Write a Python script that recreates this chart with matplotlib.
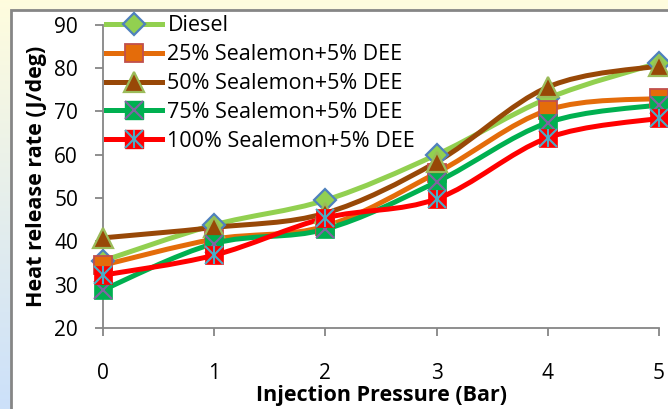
import matplotlib
matplotlib.use("Agg")
import matplotlib.pyplot as plt
import numpy as np
from matplotlib.path import Path
from matplotlib.patches import PathPatch, Rectangle
from matplotlib.lines import Line2D

plt.rcParams['font.family'] = ['Open Sans', 'DejaVu Sans']

# Data
pressure = [0, 1, 2, 3, 4, 5]
diesel = [35.5, 43.8, 49.5, 60.0, 73.0, 81.2]
sl25 = [34.5, 40.5, 43.5, 55.8, 70.3, 73.0]
sl50 = [40.8, 43.2, 46.5, 58.3, 75.6, 80.5]
sl75 = [28.8, 39.5, 42.8, 53.7, 67.4, 71.5]
sl100 = [32.2, 36.8, 45.4, 49.8, 63.9, 68.4]

labels = ["Diesel", "25% Sealemon+5% DEE", "50% Sealemon+5% DEE",
          "75% Sealemon+5% DEE", "100% Sealemon+5% DEE"]
line_colors = ["#92D050", "#E46C0A", "#984807", "#00B050", "#FF0000"]


def smooth_path(xs, ys):
    # Excel-style smoothed line: Catmull-Rom segments as cubic Bezier curves
    pts = np.column_stack([xs, ys]).astype(float)
    n = len(pts)
    verts = [pts[0]]
    codes = [Path.MOVETO]
    for i in range(n - 1):
        p0 = pts[i - 1] if i > 0 else pts[i]
        p1 = pts[i]
        p2 = pts[i + 1]
        p3 = pts[i + 2] if i + 2 < n else pts[i + 1]
        c1 = p1 + (p2 - p0) / 6.0
        c2 = p2 - (p3 - p1) / 6.0
        verts += [c1, c2, p2]
        codes += [Path.CURVE4] * 3
    return Path(verts, codes)


fig = plt.figure(figsize=(6.68, 4.09), dpi=100)

# gradient background outside the chart area
bg = fig.add_axes([0, 0, 1, 1], zorder=-10)
grad = np.linspace(0, 1, 256)[:, None]
top = np.array([1.0, 0.99, 0.87])
bottom = np.array([0.80, 0.88, 0.98])
img = top[None, None, :] * (1 - grad[:, :, None]) + bottom[None, None, :] * grad[:, :, None]
bg.imshow(img, aspect='auto', extent=[0, 1, 0, 1])
bg.set_xlim(0, 1)
bg.set_ylim(0, 1)
bg.axis('off')
bg.add_patch(Rectangle((10.5 / 668, -0.1), 1.2, 1 - 10 / 409 + 0.1,
                       facecolor='white', edgecolor='#868686', linewidth=2))

ax = fig.add_axes([103 / 668, 1 - 328 / 409, 556 / 668, (328 - 24.7) / 409])
ax.set_facecolor('none')

series = [diesel, sl25, sl50, sl75, sl100]
for ys, c in zip(series, line_colors):
    ax.add_patch(PathPatch(smooth_path(pressure, ys), facecolor='none',
                           edgecolor=c, linewidth=3.6, capstyle='round',
                           clip_on=False, zorder=2))

ms = 12.5
ax.plot(pressure, diesel, linestyle='none', marker='D', markersize=ms * 0.9,
        markerfacecolor='#92D050', markeredgecolor='#4F81BD', markeredgewidth=1.6,
        clip_on=False, zorder=3)
ax.plot(pressure, sl25, linestyle='none', marker='s', markersize=ms,
        markerfacecolor='#E46C0A', markeredgecolor='#C0504D', markeredgewidth=1.3,
        clip_on=False, zorder=3)
ax.plot(pressure, sl50, linestyle='none', marker='^', markersize=ms * 1.1,
        markerfacecolor='#984807', markeredgecolor='#9BBB59', markeredgewidth=1.6,
        clip_on=False, zorder=3)
ax.plot(pressure, sl75, linestyle='none', marker='s', markersize=ms,
        markerfacecolor='#00B050', markeredgecolor='#00B050', markeredgewidth=0.5,
        clip_on=False, zorder=3)
ax.plot(pressure, sl75, linestyle='none', marker='x', markersize=ms,
        markeredgecolor='#8064A2', markeredgewidth=1.5, clip_on=False, zorder=3)
ax.plot(pressure, sl100, linestyle='none', marker='s', markersize=ms,
        markerfacecolor='#FF0000', markeredgecolor='#FF0000', markeredgewidth=0.5,
        clip_on=False, zorder=3)
ax.plot(pressure, sl100, linestyle='none', marker='x', markersize=ms,
        markeredgecolor='#4BACC6', markeredgewidth=1.5, clip_on=False, zorder=3)
ax.plot(pressure, sl100, linestyle='none', marker='|', markersize=ms,
        markeredgecolor='#4BACC6', markeredgewidth=1.5, clip_on=False, zorder=3)

ax.set_xlim(0, 5)
ax.set_ylim(20, 90)
ax.set_xticks(pressure)
ax.set_yticks(range(20, 91, 10))
for s in ['top', 'right']:
    ax.spines[s].set_visible(False)
for s in ['left', 'bottom']:
    ax.spines[s].set_color('#868686')
    ax.spines[s].set_linewidth(1.3)
ax.tick_params(axis='x', direction='out', length=6, width=1.3, color='#868686',
               pad=19, labelsize=15)
ax.tick_params(axis='y', direction='out', length=6, width=1.3, color='#868686',
               pad=12, labelsize=15)
ax.set_xlabel("Injection Pressure (Bar)", fontsize=15.5, fontweight='bold', labelpad=1)
ax.set_ylabel("Heat release rate (J/deg)", fontsize=15.5, fontweight='bold', labelpad=5)

# legend handles
handles = [
    Line2D([], [], color='#92D050', lw=3.6, marker='D', markersize=ms * 0.9,
           markerfacecolor='#92D050', markeredgecolor='#4F81BD', markeredgewidth=1.6),
    Line2D([], [], color='#E46C0A', lw=3.6, marker='s', markersize=ms,
           markerfacecolor='#E46C0A', markeredgecolor='#C0504D', markeredgewidth=1.3),
    Line2D([], [], color='#984807', lw=3.6, marker='^', markersize=ms * 1.1,
           markerfacecolor='#984807', markeredgecolor='#9BBB59', markeredgewidth=1.6),
    (Line2D([], [], color='#00B050', lw=3.6, marker='s', markersize=ms,
            markerfacecolor='#00B050', markeredgecolor='#00B050'),
     Line2D([], [], linestyle='none', marker='x', markersize=ms,
            markeredgecolor='#8064A2', markeredgewidth=1.5)),
    (Line2D([], [], color='#FF0000', lw=3.6, marker='s', markersize=ms,
            markerfacecolor='#FF0000', markeredgecolor='#FF0000'),
     Line2D([], [], linestyle='none', marker='x', markersize=ms,
            markeredgecolor='#4BACC6', markeredgewidth=1.5),
     Line2D([], [], linestyle='none', marker='|', markersize=ms,
            markeredgecolor='#4BACC6', markeredgewidth=1.5)),
]
leg = ax.legend(handles, labels, loc='upper left', bbox_to_anchor=(-0.01, 1.06),
                frameon=False, fontsize=15.5, handlelength=2.6, handletextpad=0.25,
                labelspacing=0.37, borderaxespad=0)
leg.set_zorder(5)

fig.savefig("out.png", dpi=100)
